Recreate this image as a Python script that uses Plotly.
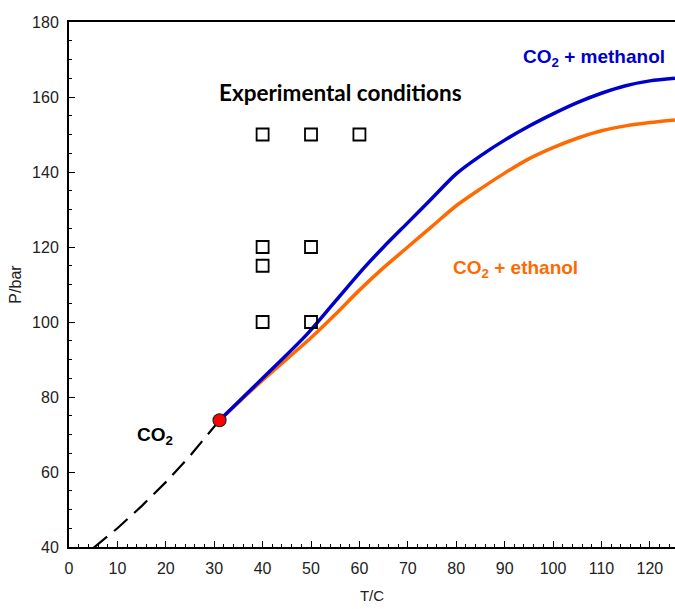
import plotly.graph_objects as go

# CO2 vapour-pressure curve (dashed)
t_co2 = [5.0, 10, 15, 20, 25, 31.1]
p_co2 = [39.7, 45.0, 50.9, 57.3, 64.3, 73.8]

# critical point of CO2
t_crit = [31.1]
p_crit = [73.8]

# CO2 + methanol critical line
t_meth = [31.1, 40, 49, 55, 61, 65, 70, 75, 80, 85, 90, 95, 100, 105, 110, 115, 120, 125.2]
p_meth = [73.8, 85, 96.5, 105.5, 114.5, 120, 126.5, 133, 139.5, 144.3, 148.5, 152.2, 155.5, 158.5, 161, 163, 164.3, 165]

# CO2 + ethanol critical line
t_eth = [31.1, 40, 50, 55, 60, 65, 70, 75, 80, 85, 90, 95, 100, 105, 110, 115, 120, 125.2]
p_eth = [73.8, 84.5, 95.8, 102, 108.5, 114.5, 120, 125.5, 131, 135.5, 139.7, 143.5, 146.5, 149, 151, 152.3, 153.2, 153.9]

# experimental conditions
t_exp = [40, 50, 60, 40, 50, 40, 40, 50]
p_exp = [150, 150, 150, 120, 120, 115, 100, 100]

x_ticks = list(range(0, 121, 10))
y_ticks = list(range(40, 181, 20))

fig = go.Figure()
fig.add_trace(go.Scatter(x=t_co2, y=p_co2, mode="lines",
                         line=dict(color="black", width=2.2, dash="18px,9px")))
fig.add_trace(go.Scatter(x=t_eth, y=p_eth, mode="lines", line_shape="spline",
                         line=dict(color="#FF6A00", width=3.5, smoothing=0.8)))
fig.add_trace(go.Scatter(x=t_meth, y=p_meth, mode="lines", line_shape="spline",
                         line=dict(color="#0000CC", width=3.5, smoothing=0.8)))
fig.add_trace(go.Scatter(x=t_exp, y=p_exp, mode="markers",
                         marker=dict(symbol="square-open", size=12, color="black",
                                     line=dict(width=1.8, color="black"))))
fig.add_trace(go.Scatter(x=t_crit, y=p_crit, mode="markers",
                         marker=dict(symbol="circle", size=13, color="#FF0000",
                                     line=dict(width=1.2, color="#222222"))))

fig.add_annotation(x=108.4, y=170.4, text="<b>CO<sub>2</sub> + methanol</b>", showarrow=False,
                   font=dict(family="Liberation Sans, Arial", size=19, color="#0000CC"))
fig.add_annotation(x=92.3, y=114.1, text="<b>CO<sub>2</sub> + ethanol</b>", showarrow=False,
                   font=dict(family="Liberation Sans, Arial", size=19, color="#FF6A00"))
fig.add_annotation(x=56.0, y=161.1, text="<b>Experimental conditions</b>", showarrow=False,
                   font=dict(family="Lato, Open Sans", size=22.5, color="black"))
fig.add_annotation(x=17.8, y=69.6, text="<b>CO<sub>2</sub></b>", showarrow=False,
                   font=dict(family="Liberation Sans, Arial", size=19, color="black"))

fig.update_layout(
    width=675, height=609,
    margin=dict(l=69, r=0, t=22, b=62),
    paper_bgcolor="white", plot_bgcolor="white",
    showlegend=False,
    font=dict(family="Liberation Sans, Arial", size=15, color="#222222"),
)
fig.update_xaxes(range=[0, 125.2], tickvals=x_ticks, ticks="inside", ticklen=6,
                 tickwidth=1, tickcolor="black", ticklabelstandoff=6,
                 tickfont=dict(family="Liberation Sans, Arial", size=16, color="#222222"),
                 minor=dict(ticks="inside", dtick=2, ticklen=3, tickcolor="black"),
                 showline=True, linecolor="black", linewidth=2, mirror=True,
                 showgrid=False, zeroline=False,
                 title=dict(text="T/C", font=dict(size=15), standoff=14))
fig.update_yaxes(range=[40, 180], tickvals=y_ticks, ticks="inside", ticklen=6,
                 tickwidth=1, tickcolor="black", ticklabelstandoff=5,
                 tickfont=dict(family="Liberation Sans, Arial", size=16, color="#222222"),
                 minor=dict(ticks="inside", dtick=5, ticklen=3, tickcolor="black"),
                 showline=True, linecolor="black", linewidth=2,
                 showgrid=False, zeroline=False,
                 title=dict(text="P/bar", font=dict(size=16), standoff=6))

fig.write_html("out.html")
